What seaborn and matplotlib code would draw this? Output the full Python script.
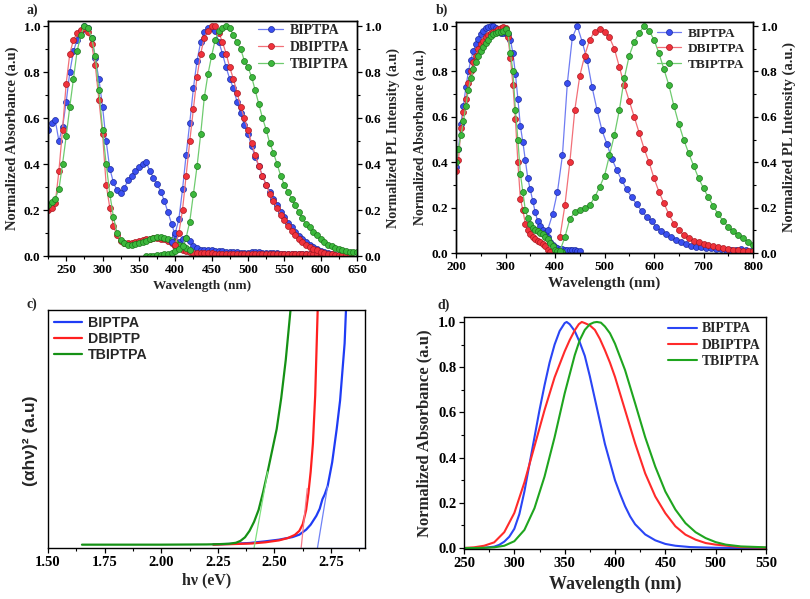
import numpy as np
import matplotlib
matplotlib.use("Agg")
import matplotlib.pyplot as plt
import seaborn as sns
from matplotlib.ticker import MultipleLocator, FormatStrFormatter

# ---------------- data ----------------
# panel a : absorption (5 nm grid) and PL (5 nm grid)
a_blue_abs_start, a_red_abs_start, a_green_abs_start = 225, 225, 225
a_blue_abs = [.55, .58, .59, .50, .56, .67, .80, .89, .94, .98, 1.0, .99, .95, .86, .77, .65, .50, .38, .32, .285,
              .275, .295, .33, .35, .37, .385, .40, .41, .37, .34, .315, .28, .24, .19, .14, .09, .06, .075, .08, .065,
              .045, .035, .028, .026, .025, .024, .023, .022, .02, .018, .017, .016, .016, .015, .015, .014, .016, .018, .017, .015,
              .013, .012, .011, .011, .01, .01, .01, .01, .009, .009, .009, .008, .008, .008, .008, .008]
a_red_abs = [.20, .21, .23, .37, .55, .75, .88, .94, .97, .985, .99, .975, .92, .83, .68, .53, .31, .21, .13, .09,
             .065, .057, .055, .056, .06, .064, .068, .072, .075, .077, .078, .076, .072, .065, .055, .045, .036, .028, .022, .018,
             .015, .013, .012, .012, .011, .011, .01, .01, .01, .01, .01, .01, .009, .009, .009, .009, .009, .009, .009, .009,
             .008, .008, .008, .008, .008, .008, .008, .008, .008, .007, .007, .007, .007, .007, .007, .007]
a_green_abs = [.22, .235, .25, .29, .40, .52, .65, .77, .89, .96, 1.0, .99, .95, .87, .72, .55, .40, .27, .17, .10,
               .07, .055, .05, .05, .052, .056, .06, .066, .072, .078, .082, .083, .08, .075, .068, .06, .05, .042, .035, .028]
a_blue_pl_start, a_red_pl_start, a_green_pl_start = 395, 400, 360
a_blue_pl = [.06, .10, .16, .29, .44, .58, .73, .85, .93, .975, .99, .99, .98, .93, .88, .82, .77, .73, .67, .62,
             .57, .53, .48, .43, .39, .35, .31, .28, .25, .22, .19, .17, .145, .125, .105, .088, .073, .06, .049, .039,
             .03, .023, .017, .012, .008, .006, .004, .003, .002, .002]
a_red_pl = [.05, .10, .20, .35, .50, .64, .78, .88, .95, .98, 1.0, 1.0, .97, .93, .88, .82, .77, .71, .65, .60,
            .55, .49, .44, .39, .35, .31, .27, .24, .21, .18, .155, .13, .11, .09, .075, .06, .05, .04, .032, .025,
            .019, .014, .01, .008, .006, .005, .004, .003, .002]
a_green_pl = [0.0, 0.0, .002, .003, .005, .007, .01, .015, .02, .03, .045, .08, .15, .27, .39, .53, .69, .79, .87, .94,
              .98, .99, 1.0, .99, .96, .93, .90, .85, .82, .78, .72, .66, .60, .55, .49, .45, .40, .35, .31, .28,
              .25, .22, .19, .165, .14, .125, .105, .09, .075, .062, .05, .042, .035, .03, .025, .021, .019, .018, .017]

# panel b : absorption (5 nm grid) and PL (10 nm grid)
b_abs_start = 200
b_blue_abs = [.38, .46, .57, .65, .73, .80, .85, .89, .92, .945, .965, .98, .99, .995, 1.0, 1.0, .99, .975, .97, .97,
              .97, .965, .94, .88, .79, .68, .56, .49, .41, .33, .28, .23, .18, .14, .12, .10, .09, .07, .05, .035,
              .025, .02, .018, .016, .015, .015, .014, .013, .012, .01, .008]
b_red_abs = [.36, .41, .55, .62, .68, .75, .80, .84, .87, .90, .92, .935, .95, .96, .97, .975, .98, .985, .99, .995,
             .99, .95, .86, .74, .59, .40, .24, .19, .13, .10, .085, .07, .06, .055, .05, .04, .03, .015, .006]
b_green_abs = [.40, .46, .52, .58, .65, .72, .77, .81, .84, .87, .89, .91, .925, .94, .955, .965, .97, .975, .975, .98,
               .985, .97, .88, .80, .63, .50, .35, .27, .19, .155, .13, .11, .10, .095, .09, .085, .07, .06, .045, .03,
               .015, .008, .005, .004]
b_blue_pl_start, b_red_pl_start, b_green_pl_start = 385, 410, 410
b_blue_pl = [.10, .17, .27, .43, .75, .95, 1.0, .93, .85, .73, .63, .54, .48, .415, .365, .32, .28, .245, .215, .185,
             .16, .14, .115, .095, .082, .07, .058, .05, .04, .033, .028, .025, .022, .02, .018, .016, .015, .014, .015, .016,
             .013, .011]
b_red_pl = [.07, .21, .40, .63, .78, .87, .94, .975, .985, .975, .95, .90, .82, .74, .67, .60, .53, .46, .40, .33,
            .27, .22, .17, .13, .10, .08, .065, .055, .047, .04, .035, .03, .025, .02, .018, .015, .013, .011, .01, .01]
b_green_pl = [.01, .07, .15, .18, .19, .20, .21, .245, .29, .34, .43, .52, .63, .77, .87, .93, .97, 1.0, .98, .94,
              .88, .81, .74, .65, .57, .50, .44, .385, .33, .285, .245, .205, .17, .14, .115, .095, .08, .065, .05, .035]

# panel c : Tauc plot
c_green_x = [1.65, 1.80, 2.00, 2.20, 2.25, 2.30, 2.33, 2.35, 2.37, 2.39, 2.41, 2.43, 2.45, 2.47, 2.49, 2.51, 2.53, 2.55, 2.571]
c_green_y = [.014, .014, .014, .015, .016, .018, .022, .03, .045, .072, .11, .16, .235, .32, .41, .50, .63, .79, 1.0]
c_red_x = [2.23, 2.30, 2.40, 2.46, 2.52, 2.56, 2.59, 2.61, 2.625, 2.64, 2.65, 2.66, 2.67, 2.68, 2.691]
c_red_y = [.014, .016, .019, .024, .032, .042, .055, .072, .10, .16, .23, .32, .44, .64, 1.0]
c_blue_x = [2.23, 2.30, 2.39, 2.46, 2.52, 2.58, 2.61, 2.64, 2.66, 2.685, 2.70, 2.712, 2.722, 2.735, 2.755, 2.775, 2.79, 2.80, 2.81, 2.816]
c_blue_y = [.015, .017, .021, .028, .035, .046, .056, .077, .098, .135, .165, .205, .225, .26, .36, .50, .62, .74, .86, 1.0]
c_fit_green = ([2.41, 2.47], [0.0, 0.32])
c_fit_red = ([2.618, 2.645], [0.0, 0.25])
c_fit_blue = ([2.69, 2.735], [0.0, 0.26])
c_base = ([2.25, 2.9], [0.0, 0.0])

# panel d : normalized absorbance curves
d_blue_x = [250, 260, 270, 280, 285, 290, 295, 300, 305, 310, 315, 320, 325, 330, 335, 340, 345, 350, 352, 355, 360, 365,
            370, 375, 380, 385, 390, 395, 400, 405, 410, 415, 420, 430, 440, 450, 460, 475, 500, 525, 550]
d_blue_y = [0, 0, .001, .006, .014, .028, .05, .085, .15, .25, .37, .49, .61, .72, .82, .90, .96, .995, 1.0, .99, .96, .91,
            .85, .76, .66, .56, .46, .38, .30, .24, .185, .14, .105, .06, .034, .018, .01, .004, .001, 0, 0]
d_red_x = [250, 260, 270, 280, 290, 300, 310, 320, 330, 340, 350, 355, 360, 364, 367, 370, 375, 380, 385, 390, 395, 400,
           410, 420, 430, 440, 450, 460, 470, 480, 490, 500, 525, 550]
d_red_y = [0, .003, .01, .025, .07, .155, .29, .45, .61, .755, .87, .92, .963, .99, 1.0, .995, .985, .965, .925, .875, .82,
           .757, .61, .463, .33, .228, .154, .096, .059, .037, .022, .015, .004, .001]
d_green_x = [250, 260, 270, 280, 290, 300, 310, 320, 330, 340, 350, 360, 365, 370, 375, 379, 382, 386, 390, 395, 400, 410,
             420, 430, 440, 450, 460, 470, 480, 490, 500, 510, 525, 550]
d_green_y = [0, 0, .001, .003, .01, .03, .08, .176, .316, .49, .684, .853, .92, .965, .99, .998, 1.0, .997, .98, .95, .904,
             .787, .64, .49, .36, .25, .17, .11, .07, .044, .026, .015, .007, .003]

names = ["BIPTPA", "DBIPTPA", "TBIPTPA"]

# ---------------- style ----------------
sns.set_theme(style="ticks")
plt.rcParams["font.family"] = ["Liberation Serif", "DejaVu Serif"]
plt.rcParams["font.weight"] = "bold"
plt.rcParams["axes.labelweight"] = "bold"
plt.rcParams["axes.linewidth"] = 1.0
plt.rcParams["axes.edgecolor"] = "black"
for ax_ in ("x", "y"):
    plt.rcParams[f"{ax_}tick.direction"] = "out"
    plt.rcParams[f"{ax_}tick.major.size"] = 3.5
    plt.rcParams[f"{ax_}tick.minor.size"] = 2
    plt.rcParams[f"{ax_}tick.major.width"] = 0.9
    plt.rcParams[f"{ax_}tick.minor.width"] = 0.8
    plt.rcParams[f"{ax_}tick.color"] = "black"
    plt.rcParams[f"{ax_}tick.labelcolor"] = "black"

MC = {"b": ("#3a4ff0", "#1c2a9c", "#6f7cf2"),
      "r": ("#f0323c", "#a81820", "#f27078"),
      "g": ("#3cb83c", "#1c761c", "#6fcb6f")}

fig = plt.figure(figsize=(8.10, 5.99), dpi=100)


def px_axes(l, t, r, b):
    return fig.add_axes([l / 810, 1 - b / 599, (r - l) / 810, (b - t) / 599])


def mark(ax, start, step, vals, key):
    face, edge, line = MC[key]
    x = np.arange(len(vals)) * step + start
    sns.lineplot(x=x, y=vals, ax=ax, color=line, linewidth=0.9, marker="o", markersize=4.3,
                 markerfacecolor=face, markeredgecolor=edge, markeredgewidth=0.5, legend=False)
    return ax.get_lines()[-1]


def style_ab(ax, ax2, xlim, xmaj, xmin, top):
    ax.set_xlim(*xlim)
    for a_ in (ax, ax2):
        a_.set_ylim(0, top)
        a_.yaxis.set_major_locator(MultipleLocator(0.2))
        a_.yaxis.set_minor_locator(MultipleLocator(0.1))
        a_.tick_params(labelsize=9.5, pad=2)
        a_.yaxis.set_major_formatter(FormatStrFormatter("%.1f"))
    ax.xaxis.set_major_locator(MultipleLocator(xmaj))
    ax.xaxis.set_minor_locator(MultipleLocator(xmin))
    ax.tick_params(axis="both", which="both", top=False, right=False)
    ax2.tick_params(axis="y", which="both", left=False, right=True)


# ---------------- panel a ----------------
axa = px_axes(48, 21, 357, 256)
axa2 = axa.twinx()
mark(axa, a_blue_abs_start, 5, a_blue_abs, "b")
mark(axa, a_red_abs_start, 5, a_red_abs, "r")
mark(axa, a_green_abs_start, 5, a_green_abs, "g")
la = [mark(axa2, a_blue_pl_start, 5, a_blue_pl, "b"),
      mark(axa2, a_red_pl_start, 5, a_red_pl, "r"),
      mark(axa2, a_green_pl_start, 5, a_green_pl, "g")]
style_ab(axa, axa2, (225, 650), 50, 25, 1.022)
axa.set_xlabel("Wavelength (nm)", fontsize=9.5, labelpad=3)
axa.set_ylabel("Normalized Absorbance (a.u)", fontsize=10.5, labelpad=3)
axa2.set_ylabel("Normalized PL Intensity (a.u)", fontsize=10.2, labelpad=4)
axa2.legend(la, names, loc="upper right", bbox_to_anchor=(0.985, 1.0), frameon=False, fontsize=10,
            handlelength=1.8, handletextpad=0.5, labelspacing=0.3, borderpad=0.1, borderaxespad=0.1)

# ---------------- panel b ----------------
axb = px_axes(456, 22, 753, 253)
axb2 = axb.twinx()
mark(axb, b_abs_start, 5, b_blue_abs, "b")
mark(axb, b_abs_start, 5, b_red_abs, "r")
mark(axb, b_abs_start, 5, b_green_abs, "g")
lb = [mark(axb2, b_blue_pl_start, 10, b_blue_pl, "b"),
      mark(axb2, b_red_pl_start, 10, b_red_pl, "r"),
      mark(axb2, b_green_pl_start, 10, b_green_pl, "g")]
style_ab(axb, axb2, (200, 800), 100, 50, 1.018)
axb.set_xlabel("Wavelength (nm)", fontsize=11, labelpad=3)
axb.set_ylabel("Normalized Absorbance (a.u.)", fontsize=9.9, labelpad=3)
axb2.set_ylabel("Normalized PL Intensity (a.u.)", fontsize=10.5, labelpad=4)
axb2.legend(lb, names, loc="upper right", bbox_to_anchor=(0.99, 1.0), frameon=False, fontsize=9.5,
            handlelength=1.8, handletextpad=0.5, labelspacing=0.25, borderpad=0.3, borderaxespad=0.1)

# ---------------- panel c ----------------
axc = px_axes(48, 310, 365, 548)
lc = []
for (xs, ys), col in zip([(c_blue_x, c_blue_y), (c_red_x, c_red_y), (c_green_x, c_green_y)],
                         ["#1f3cf5", "#ff1f1f", "#159115"]):
    sns.lineplot(x=xs, y=ys, ax=axc, color=col, linewidth=1.6, sort=False, legend=False)
    lc.append(axc.get_lines()[-1])
for (xs, ys), col in zip([c_fit_blue, c_fit_red, c_fit_green, c_base],
                         ["#6f82f5", "#f57a8a", "#7fe07f", "#6f82f5"]):
    sns.lineplot(x=xs, y=ys, ax=axc, color=col, linewidth=0.9, sort=False, legend=False)
axc.set_xlim(1.5, 2.9)
axc.set_ylim(0, 1)
axc.set_yticks([])
axc.xaxis.set_major_locator(MultipleLocator(0.25))
axc.xaxis.set_minor_locator(MultipleLocator(0.125))
axc.xaxis.set_major_formatter(FormatStrFormatter("%.2f"))
axc.tick_params(axis="x", which="both", top=False, labelsize=10.5, pad=2)
axc.set_xlabel("hν (eV)", fontsize=11.5, labelpad=3)
axc.set_ylabel("(αhν)² (a.u)", fontsize=12.5, family=["Liberation Sans", "DejaVu Sans"], labelpad=6)
axc.yaxis.set_label_coords(-0.03, 0.45)
axc.legend(lc, ["BIPTPA", "DBIPTP", "TBIPTPA"], loc="upper left", bbox_to_anchor=(0.0, 1.0), frameon=False,
           prop={"family": ["Liberation Sans", "DejaVu Sans"], "weight": "bold", "size": 10.2},
           handlelength=2.0, handletextpad=0.45, labelspacing=0.15, borderpad=0.3, borderaxespad=0.1)

# ---------------- panel d ----------------
axd = px_axes(464, 317, 766, 549)
ld = []
for xs, ys, col in [(d_blue_x, d_blue_y, "#2a45f5"), (d_red_x, d_red_y, "#ff2a2a"), (d_green_x, d_green_y, "#1fa51f")]:
    sns.lineplot(x=xs, y=ys, ax=axd, color=col, linewidth=1.5, legend=False)
    ld.append(axd.get_lines()[-1])
axd.set_xlim(250, 550)
axd.set_ylim(-0.0044, 1.022)
axd.xaxis.set_major_locator(MultipleLocator(50))
axd.xaxis.set_minor_locator(MultipleLocator(25))
axd.yaxis.set_major_locator(MultipleLocator(0.2))
axd.yaxis.set_minor_locator(MultipleLocator(0.1))
axd.yaxis.set_major_formatter(FormatStrFormatter("%.1f"))
axd.tick_params(axis="both", which="both", top=False, right=False, labelsize=10.5, pad=2)
axd.set_xlabel("Wavelength (nm)", fontsize=13, labelpad=4)
axd.set_ylabel("Normalized Absorbance (a.u)", fontsize=12, labelpad=4)
axd.legend(ld, names, loc="upper right", bbox_to_anchor=(1.0, 1.0), frameon=False, fontsize=9.8,
           handlelength=2.1, handletextpad=0.35, labelspacing=0.25, borderpad=0.3, borderaxespad=0.1)

# panel letters
for txt, x, y in [("a)", 32, 10), ("b)", 442, 10), ("c)", 32, 304), ("d)", 444, 305)]:
    fig.text(x / 810, 1 - y / 599, txt, fontsize=10, fontweight="bold", ha="center", va="center")

fig.savefig("out.png", dpi=100)
